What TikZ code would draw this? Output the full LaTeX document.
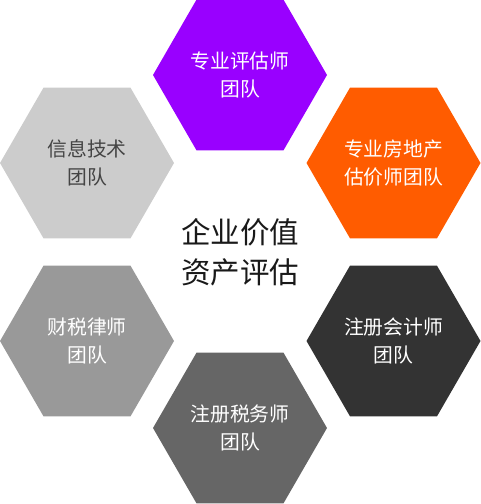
\documentclass[tikz,border=0pt]{standalone}
\usepackage{fontspec}
\setmainfont{Noto Sans CJK SC}
\usetikzlibrary{shapes.geometric}
\definecolor{hpurple}{HTML}{9900FF}
\definecolor{horange}{HTML}{FF5C00}
\definecolor{hlight}{HTML}{CCCCCC}
\definecolor{hmid}{HTML}{999999}
\definecolor{hdark}{HTML}{333333}
\definecolor{hbot}{HTML}{666666}
\definecolor{htextdark}{HTML}{444444}
\tikzset{
  hexa/.style={regular polygon, regular polygon sides=6, minimum size=174pt,
    inner sep=0pt, outer sep=0pt, draw=none, align=center, text=white,
    font=\fontsize{19.8}{28}\selectfont},
  centertext/.style={align=center, text=black!90, font=\fontsize{29.5}{40}\selectfont}
}
\begin{document}
\begin{tikzpicture}[x=1pt,y=-1pt]
\useasboundingbox (0,0) rectangle (481,504);
\node[hexa, fill=hpurple] (top) at (240,75) {专业评估师\\团队};
\node[hexa, fill=hlight, text=htextdark] (ul) at (87,163) {信息技术\\团队};
\node[hexa, fill=horange] (ur) at (393.5,163) {专业房地产\\估价师团队};
\node[hexa, fill=hmid] (ll) at (87,341) {财税律师\\团队};
\node[hexa, fill=hdark] (lr) at (393.5,341) {注册会计师\\团队};
\node[hexa, fill=hbot] (bot) at (240,428) {注册税务师\\团队};
\node[centertext] (center) at (240,252) {企业价值\\资产评估};
\end{tikzpicture}
\end{document}
